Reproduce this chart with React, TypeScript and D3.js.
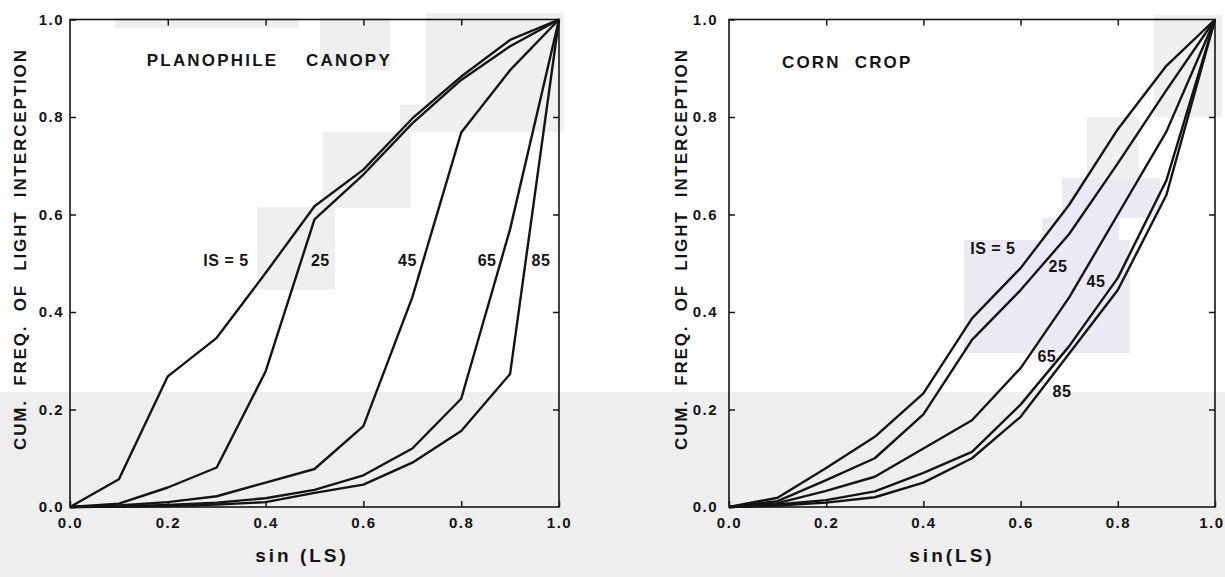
import * as d3 from "d3";
import { useEffect, useRef } from "react";

const W = 1225;
const H = 577;

// x knots, sin(LS)
const sinLS = [0, 0.1, 0.2, 0.3, 0.4, 0.5, 0.6, 0.7, 0.8, 0.9, 1.0];
const tickValues = [0, 0.2, 0.4, 0.6, 0.8, 1.0];
const innerTicks = [0.2, 0.4, 0.6, 0.8];

// planophile canopy, cumulative frequency per IS
const planoIS5 = [0, 0.057, 0.268, 0.347, 0.48, 0.617, 0.692, 0.797, 0.883, 0.958, 1.0];
const planoIS25 = [0, 0.007, 0.04, 0.081, 0.278, 0.59, 0.682, 0.787, 0.876, 0.945, 1.0];
const planoIS45 = [0, 0.003, 0.01, 0.022, 0.05, 0.078, 0.166, 0.43, 0.768, 0.896, 1.0];
const planoIS65 = [0, 0.001, 0.004, 0.009, 0.018, 0.035, 0.065, 0.12, 0.222, 0.57, 1.0];
const planoIS85 = [0, 0.001, 0.002, 0.005, 0.01, 0.029, 0.046, 0.091, 0.156, 0.273, 1.0];

// corn crop
const cornIS5 = [0, 0.019, 0.08, 0.144, 0.233, 0.387, 0.49, 0.62, 0.775, 0.905, 1.0];
const cornIS25 = [0, 0.012, 0.055, 0.1, 0.19, 0.343, 0.445, 0.56, 0.705, 0.855, 1.0];
const cornIS45 = [0, 0.008, 0.033, 0.062, 0.12, 0.178, 0.285, 0.43, 0.6, 0.77, 1.0];
const cornIS65 = [0, 0.005, 0.014, 0.032, 0.07, 0.113, 0.21, 0.33, 0.47, 0.67, 1.0];
const cornIS85 = [0, 0.003, 0.009, 0.02, 0.05, 0.1, 0.185, 0.315, 0.445, 0.64, 1.0];

const curveLabels = ["IS = 5", "25", "45", "65", "85"];

const FONT = "'Liberation Sans', Arial, sans-serif";
const INK = "#141414";

const panels = [
  {
    title: "PLANOPHILE    CANOPY",
    titleAt: [0.157, 0.905],
    series: [planoIS5, planoIS25, planoIS45, planoIS65, planoIS85],
    labelAt: [[0.319, 0.495], [0.512, 0.495], [0.69, 0.495], [0.853, 0.495], [0.963, 0.495]],
    left: 70, right: 559, top: 19.5, bottom: 507,
    xTitle: "sin (LS)", xTitleX: 302,
    yTitleX: 26, yTickGap: 6
  },
  {
    title: "CORN  CROP",
    titleAt: [0.109, 0.9],
    series: [cornIS5, cornIS25, cornIS45, cornIS65, cornIS85],
    labelAt: [[0.543, 0.52], [0.677, 0.482], [0.755, 0.451], [0.654, 0.298], [0.685, 0.226]],
    left: 729, right: 1215, top: 19.5, bottom: 507,
    xTitle: "sin(LS)", xTitleX: 952,
    yTitleX: 687, yTickGap: 11
  }
];

// scan shading behind the drawing
const patches = [
  { x: 0, y: 392, w: 1225, h: 185, c: "#eeeeee" },
  { x: 426, y: 13, w: 138, h: 119, c: "#efefef" },
  { x: 400, y: 105, w: 26, h: 27, c: "#efefef" },
  { x: 323, y: 132, w: 88, h: 76, c: "#efefef" },
  { x: 320, y: 18, w: 70, h: 52, c: "#efefef" },
  { x: 115, y: 18, w: 183, h: 10, c: "#efefef" },
  { x: 257, y: 207, w: 78, h: 83, c: "#efefef" },
  { x: 964, y: 240, w: 166, h: 113, c: "#ebeaf4" },
  { x: 1042, y: 218, w: 77, h: 22, c: "#ebeaf4" },
  { x: 1062, y: 178, w: 98, h: 40, c: "#ebeaf4" },
  { x: 1087, y: 117, w: 52, h: 61, c: "#efefef" },
  { x: 1154, y: 15, w: 68, h: 102, c: "#efefef" }
];

const drawPanel = (svg, p) => {
  const x = d3.scaleLinear().domain([0, 1]).range([p.left, p.right]);
  const y = d3.scaleLinear().domain([0, 1]).range([p.bottom, p.top]);
  const fmt = d3.format(".1f");
  const g = svg.append("g");

  const styleAxis = (sel) => {
    sel.select(".domain").remove();
    sel.selectAll("line").attr("stroke", INK).attr("stroke-width", 1.5);
    sel.selectAll("text")
      .attr("fill", INK)
      .style("font-family", FONT)
      .style("font-size", "15px")
      .style("font-weight", "bold")
      .style("letter-spacing", "1.5px");
  };

  const bottomAxis = g.append("g")
    .attr("transform", `translate(0,${p.bottom})`)
    .call(d3.axisBottom(x).tickValues(tickValues).tickSize(-6).tickPadding(10).tickFormat(fmt))
    .call(styleAxis);

  // keep the last label inside the page on the right edge
  if (p.right + 14 > W) {
    bottomAxis.selectAll(".tick text")
      .filter(d => d === 1)
      .attr("text-anchor", "end")
      .attr("x", W - p.right - 1);
  }

  g.append("g")
    .attr("transform", `translate(0,${p.top})`)
    .call(d3.axisTop(x).tickValues(innerTicks).tickSize(-6).tickFormat(() => ""))
    .call(styleAxis);

  g.append("g")
    .attr("transform", `translate(${p.left},0)`)
    .call(d3.axisLeft(y).tickValues(tickValues).tickSize(-6).tickPadding(p.yTickGap).tickFormat(fmt))
    .call(styleAxis);

  g.append("g")
    .attr("transform", `translate(${p.right},0)`)
    .call(d3.axisRight(y).tickValues(innerTicks).tickSize(-6).tickFormat(() => ""))
    .call(styleAxis);

  g.append("rect")
    .attr("x", x(0))
    .attr("y", y(1))
    .attr("width", x(1) - x(0))
    .attr("height", y(0) - y(1))
    .attr("fill", "none")
    .attr("stroke", INK)
    .attr("stroke-width", 1.6);

  const line = d3.line()
    .x((d, i) => x(sinLS[i]))
    .y(d => y(d));

  p.series.forEach(s => {
    g.append("path")
      .attr("d", line(s))
      .attr("fill", "none")
      .attr("stroke", INK)
      .attr("stroke-width", 2.4)
      .attr("stroke-linejoin", "round");
  });

  curveLabels.forEach((t, i) => {
    g.append("text")
      .attr("x", x(p.labelAt[i][0]))
      .attr("y", y(p.labelAt[i][1]))
      .attr("text-anchor", "middle")
      .attr("fill", INK)
      .style("font-family", FONT)
      .style("font-size", "16px")
      .style("font-weight", "bold")
      .style("letter-spacing", "0.5px")
      .style("white-space", "pre")
      .text(t);
  });

  g.append("text")
    .attr("x", x(p.titleAt[0]))
    .attr("y", y(p.titleAt[1]))
    .attr("fill", INK)
    .style("font-family", FONT)
    .style("font-size", "17px")
    .style("font-weight", "bold")
    .style("letter-spacing", "2.2px")
    .style("white-space", "pre")
    .text(p.title);

  g.append("text")
    .attr("x", p.xTitleX)
    .attr("y", 562)
    .attr("text-anchor", "middle")
    .attr("fill", INK)
    .style("font-family", FONT)
    .style("font-size", "19px")
    .style("font-weight", "bold")
    .style("letter-spacing", "3px")
    .style("white-space", "pre")
    .text(p.xTitle);

  g.append("text")
    .attr("transform", `translate(${p.yTitleX},250) rotate(-90)`)
    .attr("text-anchor", "middle")
    .attr("textLength", 400)
    .attr("lengthAdjust", "spacing")
    .attr("fill", INK)
    .style("font-family", FONT)
    .style("font-size", "17px")
    .style("font-weight", "bold")
    .style("white-space", "pre")
    .text("CUM.  FREQ.  OF  LIGHT  INTERCEPTION");
};

const App = () => {
  const ref = useRef(null);

  useEffect(() => {
    const svg = d3.select(ref.current);
    svg.selectAll("*").remove();

    svg.append("rect").attr("width", W).attr("height", H).attr("fill", "#ffffff");

    svg.selectAll(".patch")
      .data(patches)
      .enter()
      .append("rect")
      .attr("x", d => d.x)
      .attr("y", d => d.y)
      .attr("width", d => d.w)
      .attr("height", d => d.h)
      .attr("fill", d => d.c);

    panels.forEach(p => drawPanel(svg, p));
  }, []);

  return (
    <svg ref={ref} width={W} height={H} style={{ position: "absolute", left: 0, top: 0 }}></svg>
  );
};

export default App;
